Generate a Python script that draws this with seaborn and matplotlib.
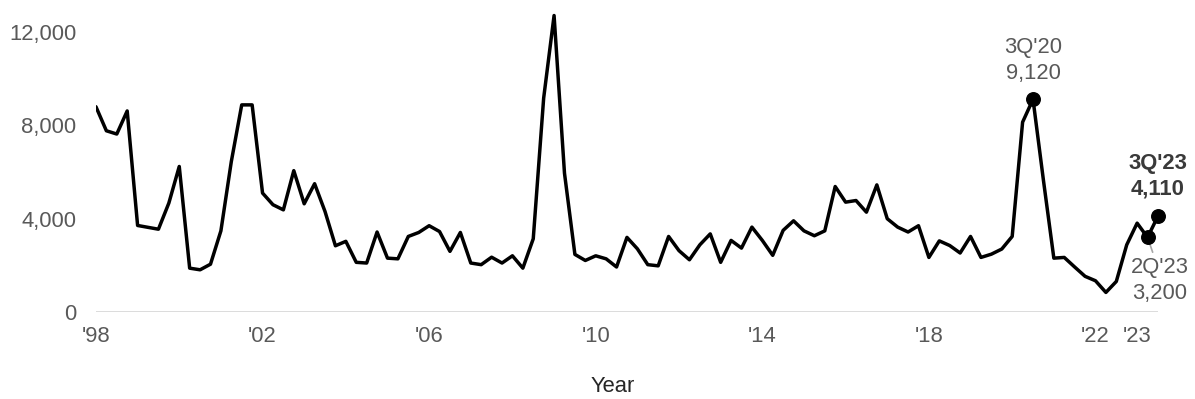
import matplotlib
matplotlib.use("Agg")
import matplotlib.pyplot as plt
import seaborn as sns
import pandas as pd

# Quarterly volume, 1Q'98 through 3Q'23
years = list(range(1998, 2024))
values = [
    8800, 7770, 7630, 8620,   # 1998
    3710, 3630, 3550, 4670,   # 1999
    6240, 1880, 1810, 2050,   # 2000
    3480, 6450, 8880, 8880,   # 2001
    5100, 4600, 4380, 6060,   # 2002
    4640, 5500, 4310, 2840,   # 2003
    3030, 2130, 2100, 3430,   # 2004
    2310, 2280, 3240, 3410,   # 2005
    3700, 3450, 2600, 3410,   # 2006
    2100, 2030, 2350, 2100,   # 2007
    2410, 1880, 3140, 9170,   # 2008
    12710, 5950, 2470, 2210,  # 2009
    2410, 2280, 1930, 3200,   # 2010
    2710, 2030, 1980, 3240,   # 2011
    2630, 2240, 2880, 3350,   # 2012
    2130, 3070, 2740, 3640,   # 2013
    3070, 2430, 3500, 3910,   # 2014
    3480, 3270, 3480, 5380,   # 2015
    4710, 4780, 4280, 5450,   # 2016
    4000, 3640, 3430, 3700,   # 2017
    2340, 3050, 2850, 2530,   # 2018
    3240, 2340, 2480, 2700,   # 2019
    3240, 8140, 9120, 5650,   # 2020
    2310, 2340, 1930, 1530,   # 2021
    1340, 840, 1310, 2880,    # 2022
    3810, 3200, 4110,         # 2023
]
quarters = [f"{q}Q'{str(y)[2:]}" for y in years for q in range(1, 5)][:len(values)]

tick_years = [1998, 2002, 2006, 2010, 2014, 2018, 2022, 2023]
tick_labels = ["'98", "'02", "'06", "'10", "'14", "'18", "'22", "'23"]
y_ticks = [0, 4000, 8000, 12000]

highlights = ["3Q'20", "2Q'23", "3Q'23"]

df = pd.DataFrame({"quarter": quarters, "value": values})
df["pos"] = range(len(df))

sns.set_style("white")
plt.rcParams["font.family"] = ["Liberation Sans", "DejaVu Sans"]

GRAY = "#595959"
FS = 15.8

fig = plt.figure(figsize=(11.95, 3.99), dpi=100)
ax = fig.add_axes([0.0803, 0.218, 0.8887, 0.760])

ax.axhline(0, color="#d9d9d9", lw=1.3, zorder=1)
sns.lineplot(data=df, x="pos", y="value", color="black", lw=2.5, ax=ax, zorder=3)

pts = df[df["quarter"].isin(highlights)]
ax.scatter(pts["pos"], pts["value"], s=95, color="black", zorder=5, clip_on=False)

ax.set_xlim(0, len(values) - 1)
ax.set_ylim(0, 13000)

ax.set_xticks([quarters.index(f"1Q'{str(y)[2:]}") for y in tick_years])
ax.set_xticklabels(tick_labels)
ax.set_yticks(y_ticks)
ax.set_yticklabels([f"{v:,}" for v in y_ticks])
ax.tick_params(axis="both", length=0, labelsize=FS, labelcolor=GRAY)
ax.tick_params(axis="y", pad=14)
ax.tick_params(axis="x", pad=10)
ax.set_xlabel("")
ax.set_ylabel("")
for s in ax.spines.values():
    s.set_visible(False)

fig.text(613 / 1195, 1 - 386 / 399, "Year", ha="center", va="center",
         fontsize=FS, color="#262626")

def pick(q):
    r = df[df["quarter"] == q].iloc[0]
    return r["pos"], r["value"]

x, v = pick("3Q'20")
ax.annotate(f"3Q'20\n{v:,}", xy=(x, v), xytext=(0, 11), textcoords="offset points",
            ha="center", va="bottom", fontsize=FS, color=GRAY, linespacing=1.33,
            annotation_clip=False)

x, v = pick("3Q'23")
ax.annotate(f"3Q'23\n{v:,}", xy=(x, v), xytext=(0, 12), textcoords="offset points",
            ha="center", va="bottom", fontsize=FS, color="#3a3a3a", fontweight="bold",
            linespacing=1.25, annotation_clip=False)

x, v = pick("2Q'23")
ax.annotate(f"2Q'23\n{v:,}", xy=(x, v), xytext=(9, -14), textcoords="offset points",
            ha="center", va="top", fontsize=FS, color=GRAY, linespacing=1.3,
            annotation_clip=False,
            arrowprops=dict(arrowstyle="-", color="#a6a6a6", lw=1.2,
                            shrinkA=1, shrinkB=0, relpos=(0.4, 1.0)))

fig.savefig("out.png", dpi=100)
